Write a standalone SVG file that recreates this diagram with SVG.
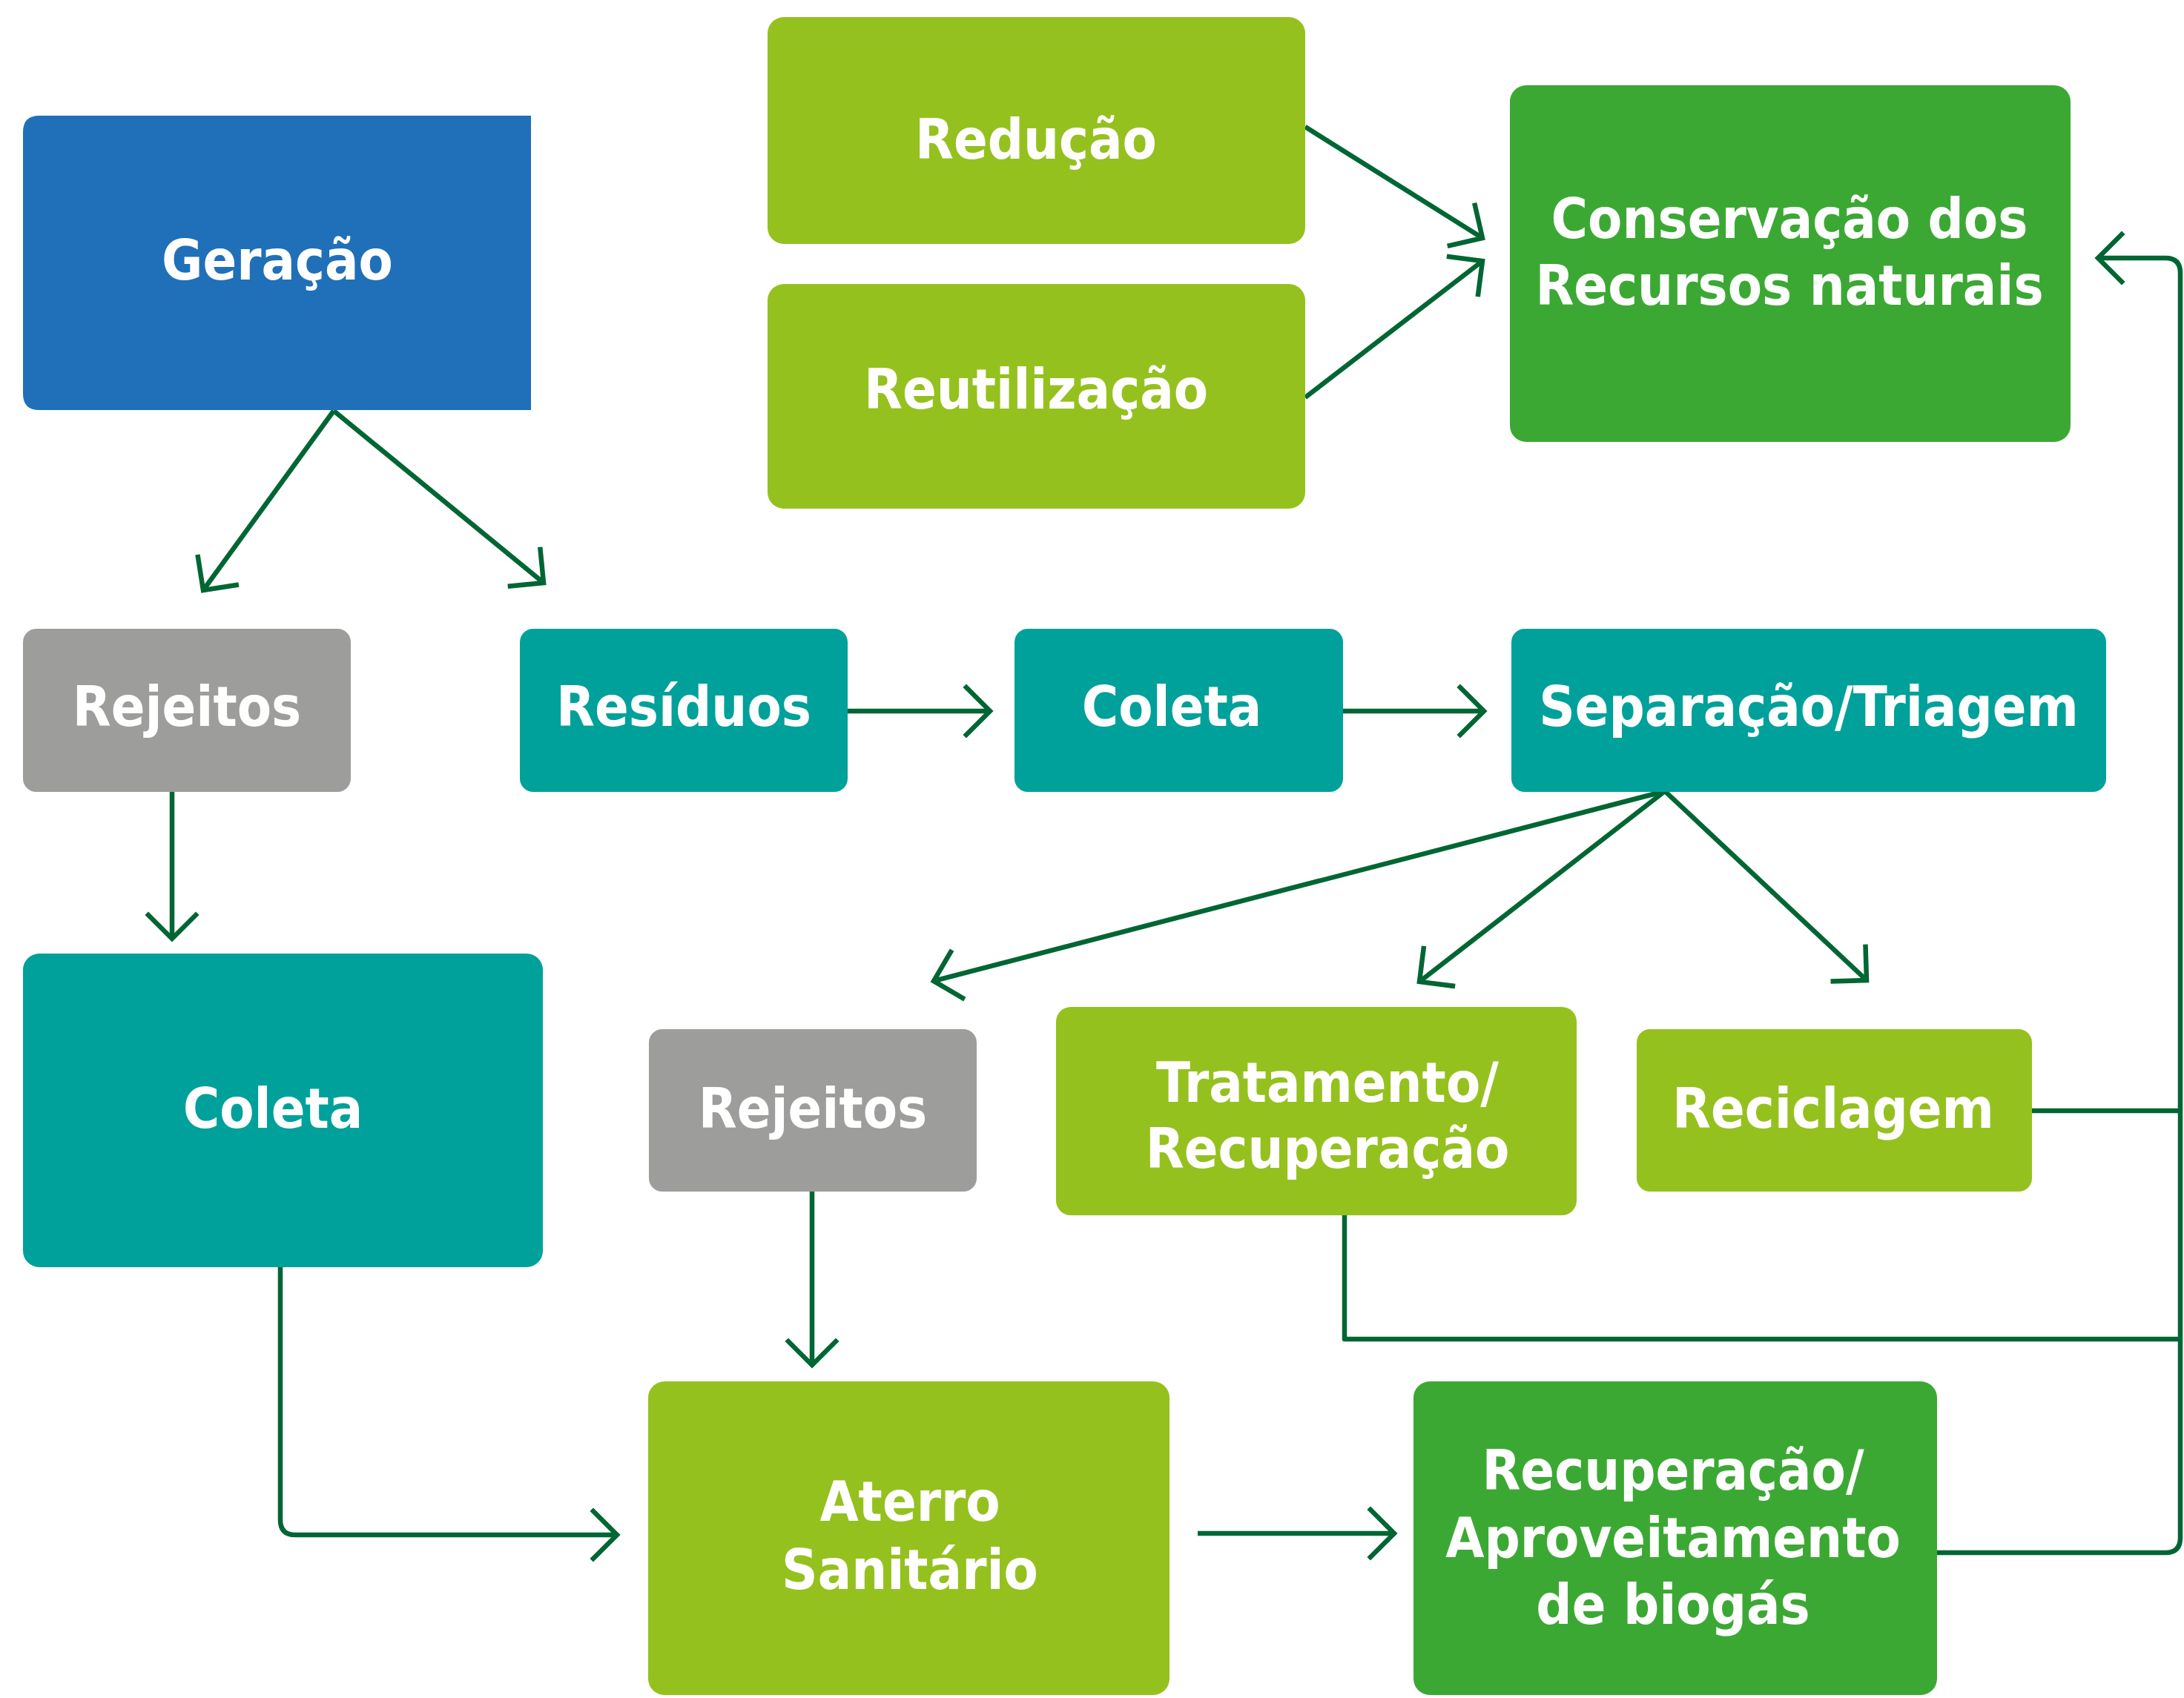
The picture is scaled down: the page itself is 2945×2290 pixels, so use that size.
<svg xmlns="http://www.w3.org/2000/svg" width="2945" height="2290" viewBox="0 0 2945 2290">
<style>
.blue{fill:#1f70b8}
.lime{fill:#95c11f}
.teal{fill:#00a19a}
.gray{fill:#9d9d9c}
.green{fill:#3ca834}
text{font-family:"DejaVu Sans Condensed","Liberation Sans Narrow","Liberation Sans",sans-serif;font-stretch:condensed;font-weight:bold;font-size:75px;fill:#ffffff;text-anchor:middle}
.c{fill:none;stroke:#006633;stroke-width:6.5;stroke-linejoin:round}
</style>
<defs>
<marker id="ah" markerUnits="userSpaceOnUse" orient="auto" refX="0" refY="0" markerWidth="80" markerHeight="80" viewBox="-40 -40 80 80" overflow="visible">
<path d="M-32,-32 L0,0 L-32,32" fill="none" stroke="#006633" stroke-width="6.5" stroke-linecap="square"/>
</marker>
</defs>
<rect width="2945" height="2290" fill="#ffffff"/>
<g id="connectors">
<line class="c" x1="450" y1="554" x2="274" y2="796" marker-end="url(#ah)"/>
<line class="c" x1="450" y1="554" x2="733" y2="786" marker-end="url(#ah)"/>
<line class="c" x1="1760" y1="171" x2="1999" y2="321" marker-end="url(#ah)"/>
<line class="c" x1="1760" y1="536" x2="1999" y2="352" marker-end="url(#ah)"/>
<line class="c" x1="1143" y1="959" x2="1335" y2="959" marker-end="url(#ah)"/>
<line class="c" x1="1811" y1="959" x2="2001" y2="959" marker-end="url(#ah)"/>
<line class="c" x1="232" y1="1068" x2="232" y2="1266" marker-end="url(#ah)"/>
<line class="c" x1="2245" y1="1067" x2="1259" y2="1323" marker-end="url(#ah)"/>
<line class="c" x1="2245" y1="1067" x2="1914" y2="1324" marker-end="url(#ah)"/>
<line class="c" x1="2245" y1="1067" x2="2517" y2="1322" marker-end="url(#ah)"/>
<line class="c" x1="1095" y1="1607" x2="1095" y2="1841" marker-end="url(#ah)"/>
<path class="c" d="M378,1709 L378,2050 Q378,2070 398,2070 L832,2070" marker-end="url(#ah)"/>
<line class="c" x1="1615" y1="2068" x2="1880" y2="2068" marker-end="url(#ah)"/>
<line class="c" x1="2740" y1="1498" x2="2940" y2="1498"/>
<path class="c" d="M1813,1639 L1813,1806 L2940,1806"/>
<path class="c" d="M2612,2094 L2920,2094 Q2940,2094 2940,2074 L2940,368 Q2940,348 2920,348 L2829,348" marker-end="url(#ah)"/>
</g>
<g id="geracao">
<path class="blue" d="M53,156 L716,156 L716,553 L53,553 Q31,553 31,531 L31,178 Q31,156 53,156 Z"/>
<text x="374" y="377">Geração</text>
</g>
<g id="reducao">
<rect class="lime" x="1035" y="23" width="725" height="306" rx="22"/>
<text x="1397" y="214">Redução</text>
</g>
<g id="reutilizacao">
<rect class="lime" x="1035" y="383" width="725" height="303" rx="22"/>
<text x="1397" y="551">Reutilização</text>
</g>
<g id="conservacao">
<rect class="green" x="2036" y="115" width="756" height="481" rx="22"/>
<text x="2413" y="321">Conservação dos</text>
<text x="2413" y="411">Recursos naturais</text>
</g>
<g id="rejeitos1">
<rect class="gray" x="31" y="848" width="442" height="220" rx="18"/>
<text x="252" y="979">Rejeitos</text>
</g>
<g id="residuos">
<rect class="teal" x="701" y="848" width="442" height="220" rx="18"/>
<text x="922" y="979">Resíduos</text>
</g>
<g id="coleta1">
<rect class="teal" x="1368" y="848" width="443" height="220" rx="18"/>
<text x="1580" y="979">Coleta</text>
</g>
<g id="separacao">
<rect class="teal" x="2038" y="848" width="802" height="220" rx="18"/>
<text x="2439" y="979">Separação/Triagem</text>
</g>
<g id="coleta2">
<rect class="teal" x="31" y="1286" width="701" height="423" rx="22"/>
<text x="368" y="1521">Coleta</text>
</g>
<g id="rejeitos2">
<rect class="gray" x="875" y="1388" width="442" height="219" rx="18"/>
<text x="1096" y="1521">Rejeitos</text>
</g>
<g id="tratamento">
<rect class="lime" x="1424" y="1358" width="702" height="281" rx="20"/>
<text x="1790" y="1486">Tratamento/</text>
<text x="1790" y="1575">Recuperação</text>
</g>
<g id="reciclagem">
<rect class="lime" x="2207" y="1388" width="533" height="219" rx="18"/>
<text x="2472" y="1521">Reciclagem</text>
</g>
<g id="aterro">
<rect class="lime" x="874" y="1863" width="703" height="423" rx="22"/>
<text x="1227" y="2051">Aterro</text>
<text x="1227" y="2143">Sanitário</text>
</g>
<g id="biogas">
<rect class="green" x="1906" y="1863" width="706" height="423" rx="22"/>
<text x="2256" y="2009">Recuperação/</text>
<text x="2256" y="2100">Aproveitamento</text>
<text x="2256" y="2190">de biogás</text>
</g>
</svg>
